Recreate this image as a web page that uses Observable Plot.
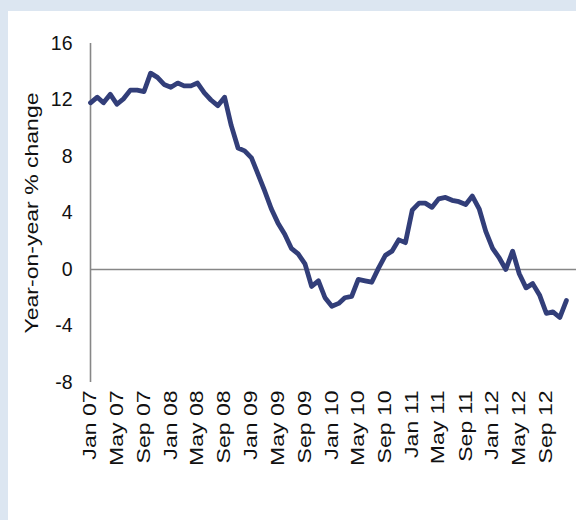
<!DOCTYPE html>
<html>
<head>
<meta charset="utf-8">
<script src="https://cdn.jsdelivr.net/npm/d3@7"></script>
<script src="https://cdn.jsdelivr.net/npm/@observablehq/plot@0.6"></script>
<style>
  body { margin: 0; background: #dce6f1; width: 576px; height: 520px; overflow: hidden; position: relative; }
  #panel { position: absolute; left: 8px; top: 11px; width: 568px; height: 509px; background: #fff; }
  #panel svg text { font-size: 18px; fill: #111; }
</style>
</head>
<body>
<div id="panel"></div>
<script>
// monthly series, Jan 07 .. Dec 12 (year-on-year % change)
const firstMonth = "2007-01";
const change = [
  11.8, 12.2, 11.8, 12.4, 11.7, 12.1, 12.7, 12.7, 12.6, 13.9, 13.6, 13.1,  // 2007
  12.9, 13.2, 13.0, 13.0, 13.2, 12.5, 12.0, 11.6, 12.2, 10.2, 8.6, 8.4,    // 2008
  7.9, 6.7, 5.6, 4.3, 3.3, 2.5, 1.5, 1.1, 0.4, -1.2, -0.8, -2.0,          // 2009
  -2.6, -2.4, -2.0, -1.9, -0.7, -0.8, -0.9, 0.1, 1.0, 1.3, 2.1, 1.9,     // 2010
  4.2, 4.7, 4.7, 4.4, 5.0, 5.1, 4.9, 4.8, 4.6, 5.2, 4.3, 2.7,            // 2011
  1.5, 0.8, 0.0, 1.3, -0.3, -1.3, -1.0, -1.8, -3.1, -3.0, -3.4, -2.2     // 2012
];
const yTicks = [-8, -4, 0, 4, 8, 12, 16];
const tickLabels = ["Jan 07", "May 07", "Sep 07", "Jan 08", "May 08", "Sep 08", "Jan 09", "May 09",
  "Sep 09", "Jan 10", "May 10", "Sep 10", "Jan 11", "May 11", "Sep 11", "Jan 12", "May 12", "Sep 12"];

const start = d3.utcParse("%Y-%m")(firstMonth);
const data = change.map((v, i) => ({ date: d3.utcMonth.offset(start, i), value: v }));
const parseTick = d3.utcParse("%b %y");
const xTicks = tickLabels.map(parseTick);

const chart = Plot.plot({
  width: 568,
  height: 509,
  marginLeft: 82,
  marginRight: 0,
  marginTop: 32,
  marginBottom: 138,
  style: { fontFamily: "'Liberation Sans', Arial, sans-serif", fontSize: "18px", color: "#111", background: "transparent" },
  x: { type: "utc", domain: [start, new Date(Date.UTC(2013, 0, 16))] },
  y: { domain: [-8, 16] },
  marks: [
    Plot.ruleX([start], { y1: -8, y2: 16, stroke: "#878787", strokeWidth: 1.6 }),
    Plot.ruleY([0], { stroke: "#878787", strokeWidth: 1.6 }),
    Plot.axisY({ ticks: yTicks, tickSize: 0, tickPadding: 18, fontSize: 18,
      tickFormat: d => (d < 0 ? "-" + (-d) : String(d)),
      label: "Year-on-year % change", labelAnchor: "center", labelArrow: "none", labelOffset: 65 }),
    Plot.axisX({ ticks: xTicks, tickFormat: d3.utcFormat("%b %y"), tickSize: 0, tickPadding: 8,
      tickRotate: -90, fontSize: 18, label: null }),
    Plot.line(data, { x: "date", y: "value", stroke: "#323e79", strokeWidth: 4.8, strokeLinejoin: "round" })
  ]
});

// rotated labels in the original are drawn longer than they are tall,
// the level numbers a touch wider
d3.select(chart).selectAll("text").each(function () {
  const t = this.getAttribute("transform");
  if (t && t.includes("rotate")) this.setAttribute("transform", t + " scale(1.28,1)");
  else this.style.fontSize = "19.5px";
});
document.getElementById("panel").append(chart);
</script>
</body>
</html>
